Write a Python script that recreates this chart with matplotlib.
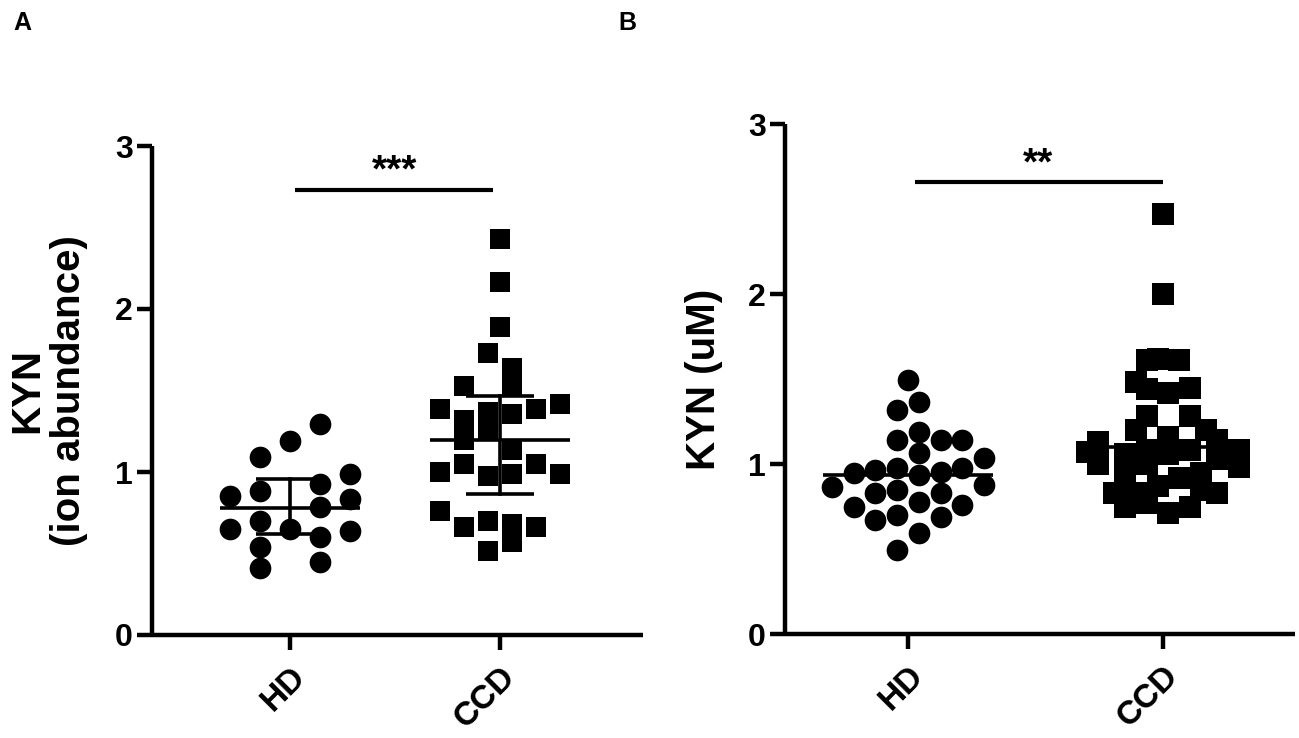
import matplotlib
matplotlib.use("Agg")
import matplotlib.pyplot as plt
import numpy as np

plt.rcParams['font.family'] = ['Liberation Sans', 'DejaVu Sans']
plt.rcParams['font.weight'] = 'bold'

# ---------------- data ----------------
groups = ["HD", "CCD"]
y_ticks = [0, 1, 2, 3]

# Panel A: KYN (ion abundance)
a_hd_vals = [1.297, 1.188, 1.095, 0.989, 0.927, 0.886, 0.855, 0.835, 0.783,
             0.702, 0.650, 0.650, 0.640, 0.599, 0.537, 0.445, 0.414]
a_hd_slot = [1, 0, -1, 2, 1, -1, -2, 2, 1, -1, -2, 0, 2, 1, -1, 1, -1]
a_ccd_vals = [2.431, 2.164, 1.891, 1.727, 1.635, 1.528, 1.522, 1.420, 1.389,
              1.389, 1.368, 1.358, 1.317, 1.255, 1.194, 1.132, 1.050, 1.050,
              0.999, 0.989, 0.978, 0.989, 0.763, 0.702, 0.660, 0.660, 0.681,
              0.568, 0.517]
a_ccd_slot = [0, 0, 0, -1, 1, -3, 1, 5, -5, 3, -1, 1, -3, -1, -3, 1, -3, 3,
              -5, 5, -1, 1, -5, -1, -3, 3, 1, 1, -1]
a_mean = [0.777, 1.194]
a_sd_low = [0.620, 0.866]
a_sd_high = [0.958, 1.467]
a_sig = "***"

# Panel B: KYN (uM)
b_hd_vals = [1.494, 1.366, 1.318, 1.190, 1.141, 1.141, 1.141, 1.063, 1.034,
             0.965, 0.975, 0.935, 0.955, 0.975, 0.945, 0.867, 0.876, 0.827,
             0.847, 0.827, 0.749, 0.778, 0.759, 0.671, 0.700, 0.690, 0.592,
             0.494]
b_hd_slot = [0, 0.5, -0.5, 0.5, -0.5, 1.5, 2.5, 0.5, 3.5, -1.5, -0.5, 0.5,
             1.5, 2.5, -2.5, -3.5, 3.5, -1.5, -0.5, 1.5, -2.5, 0.5, 2.5, -1.5,
             -0.5, 1.5, 0.5, -0.5]
b_ccd_vals = [2.47, 2.00, 1.61, 1.62, 1.61, 1.48, 1.44, 1.42, 1.45, 1.28, 1.28,
              1.20, 1.20, 1.16, 1.14, 1.13, 1.07, 1.00, 1.08, 0.98, 1.06, 1.08,
              1.06, 1.08, 1.00, 1.03, 0.96, 0.95, 0.92, 0.83, 0.83, 0.87, 0.85,
              0.83, 0.75, 0.77, 0.71, 0.75]
b_ccd_slot = [0, 0, -1.5, -0.5, 1.5, -2.5, -1.5, 0.5, 2.5, -1.5, 2.5, -2.5, 4,
              0.5, 5, -6, -7, -6, 7, 7, -3.5, -1.5, 0.5, 2.5, -1.5, 5, -3.5,
              3.5, 1.5, -4.5, -2.5, -0.5, 3.5, 5, -3.5, -1.5, 0.5, 2.5]
b_mean = [0.935, 1.10]
b_sig = "**"

# ---------------- figure ----------------
fig = plt.figure(figsize=(12.99, 7.38), dpi=100)

axA = fig.add_axes([152/1299, 103/738, (643-152)/1299, (635-146)/738])
axB = fig.add_axes([785/1299, 104/738, (1295-785)/1299, (634-124)/738])

LW = 3.2
TICKFS = 23
LABFS = 29


def style(ax, xlim):
    ax.set_xlim(*xlim)
    ax.set_ylim(0, 3)
    for s in ['top', 'right']:
        ax.spines[s].set_visible(False)
    for s in ['left', 'bottom']:
        ax.spines[s].set_linewidth(LW)
        ax.spines[s].set_capstyle('butt')
    ax.set_yticks(y_ticks)
    ax.set_yticklabels([str(t) for t in y_ticks], fontsize=TICKFS, fontweight='bold')
    ax.set_xticks([0, 1])
    ax.set_xticklabels(groups, fontsize=TICKFS + 1, fontweight='bold', rotation=45,
                       ha='right', va='top', rotation_mode='anchor')
    ax.tick_params(axis='y', length=11, width=LW, pad=3)
    ax.tick_params(axis='x', length=11, width=LW, pad=8)


# Panel A
style(axA, ((152-290)/210, (643-290)/210))
stepA_hd = 30/210
stepA_ccd = 12/210
axA.plot(0 + np.array(a_hd_slot)*stepA_hd, a_hd_vals, 'o', color='black',
         markersize=15.6, markeredgewidth=0, zorder=3, clip_on=False)
axA.plot(1 + np.array(a_ccd_slot)*stepA_ccd, a_ccd_vals, 's', color='black',
         markersize=15.0, markeredgewidth=0, zorder=3, clip_on=False)
for i in range(2):
    axA.plot([i-0.333, i+0.333], [a_mean[i]]*2, color='black', lw=2.6, zorder=4,
             solid_capstyle='butt')
    axA.plot([i, i], [a_sd_low[i], a_sd_high[i]], color='black', lw=2.6, zorder=4)
    for v in (a_sd_low[i], a_sd_high[i]):
        axA.plot([i-0.16, i+0.16], [v, v], color='black', lw=2.6, zorder=4,
                 solid_capstyle='butt')
axA.plot([0.024, 0.967], [2.73, 2.73], color='black', lw=3, solid_capstyle='butt')
axA.text(0.5, 2.735, a_sig, ha='center', va='bottom', fontsize=28, fontweight='bold')
axA.set_ylabel("KYN\n(ion abundance)", fontsize=LABFS, fontweight='bold', linespacing=1.1)
axA.yaxis.set_label_coords((48-152)/491, 0.5)
axA.yaxis.label.set_va('center')

# Panel B
style(axB, ((785-908)/255, (1295-908)/255))
stepB_hd = 21.7/255
stepB_ccd = 10.85/255
axB.plot(0 + np.array(b_hd_slot)*stepB_hd, b_hd_vals, 'o', color='black',
         markersize=15.6, markeredgewidth=0, zorder=3, clip_on=False)
axB.plot(1 + np.array(b_ccd_slot)*stepB_ccd, b_ccd_vals, 's', color='black',
         markersize=15.6, markeredgewidth=0, zorder=3, clip_on=False)
for i in range(2):
    axB.plot([i-0.333, i+0.333], [b_mean[i]]*2, color='black', lw=2.6, zorder=4,
             solid_capstyle='butt')
axB.plot([0.027, 1.0], [2.66, 2.66], color='black', lw=3, solid_capstyle='butt')
axB.text(0.51, 2.655, b_sig, ha='center', va='bottom', fontsize=28, fontweight='bold')
axB.set_ylabel("KYN (uM)", fontsize=LABFS, fontweight='bold')
axB.yaxis.set_label_coords((704-785)/510, 0.5)
axB.yaxis.label.set_va('center')

fig.text(13/1299, 1-11/738, "A", fontsize=18, fontweight='bold', ha='left', va='top')
fig.text(618/1299, 1-11/738, "B", fontsize=18, fontweight='bold', ha='left', va='top')

fig.savefig("out.png", dpi=100)
